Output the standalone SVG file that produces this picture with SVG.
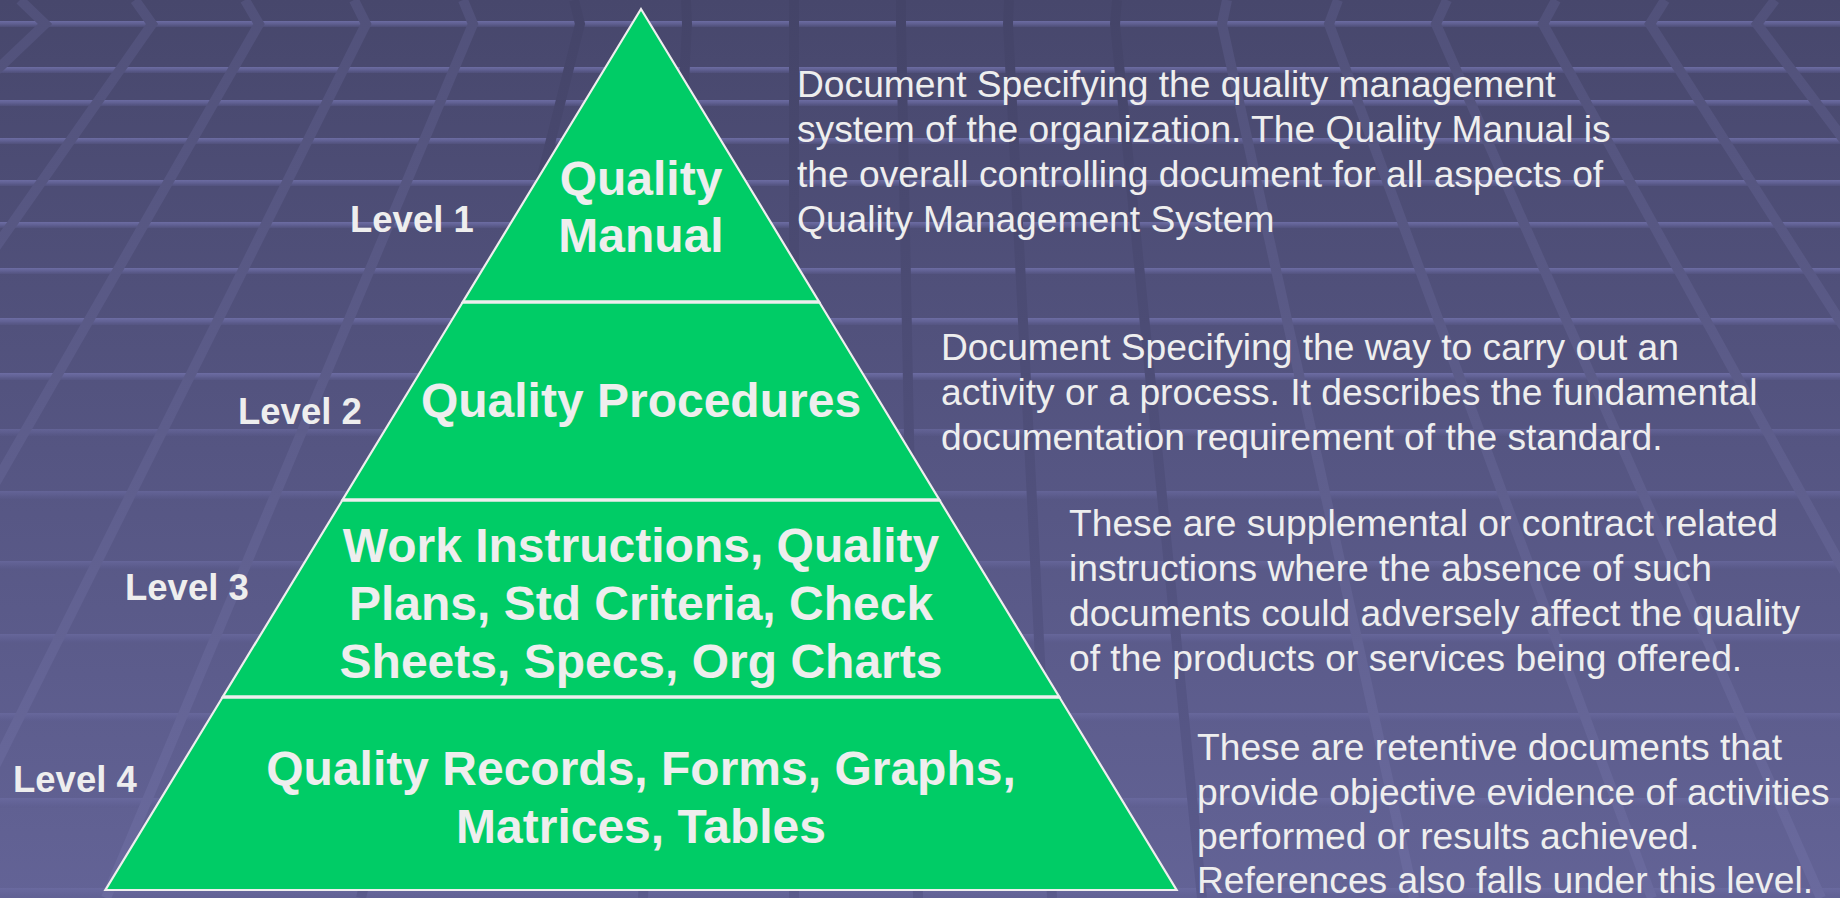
<svg xmlns="http://www.w3.org/2000/svg" width="1840" height="898" viewBox="0 0 1840 898">
<defs>
<linearGradient id="bg" x1="0" y1="0" x2="0" y2="898" gradientUnits="userSpaceOnUse">
<stop offset="0" stop-color="#47476c"/>
<stop offset="0.5" stop-color="#555582"/>
<stop offset="1" stop-color="#636396"/>
</linearGradient>
<linearGradient id="lightLine" x1="0" y1="0" x2="0" y2="898" gradientUnits="userSpaceOnUse">
<stop offset="0" stop-color="#51517a"/>
<stop offset="1" stop-color="#6a6a9e"/>
</linearGradient>
<linearGradient id="darkLine" x1="0" y1="0" x2="0" y2="898" gradientUnits="userSpaceOnUse">
<stop offset="0" stop-color="#444468"/>
<stop offset="1" stop-color="#5a5a8c"/>
</linearGradient>
<linearGradient id="band" x1="0" y1="0" x2="0" y2="1">
<stop offset="0" stop-color="#7070a8" stop-opacity="0.9"/>
<stop offset="0.5" stop-color="#66669c" stop-opacity="0.75"/>
<stop offset="1" stop-color="#5c5c8e" stop-opacity="0.35"/>
</linearGradient>
<style>
.band{fill:url(#band)}
.bandlo{fill:url(#band);opacity:0.6}
.sl{fill:none;stroke:url(#lightLine);stroke-width:10}
.sd{fill:none;stroke:url(#darkLine);stroke-width:10}
.lvl{fill:#00cc66;stroke:#eeeeee;stroke-width:2.2;stroke-linejoin:miter}
.div{stroke:#eeeeee;stroke-width:3.4}
.big{font-family:"Liberation Sans",Arial,sans-serif;font-weight:bold;font-size:48px;fill:#eeeeee;text-anchor:middle}
.lab{font-family:"Liberation Sans",Arial,sans-serif;font-weight:bold;font-size:36.5px;fill:#eeeeee}
.desc{font-family:"Liberation Sans",Arial,sans-serif;font-size:37.2px;fill:#eeeeee}
</style>
</defs>
<g id="background">
<rect x="0" y="0" width="1840" height="898" fill="url(#bg)"/>
<rect class="band" x="0" y="21" width="1840" height="6"/>
<rect class="band" x="0" y="67" width="1840" height="6"/>
<rect class="band" x="0" y="100" width="1840" height="6"/>
<rect class="band" x="0" y="138" width="1840" height="6"/>
<rect class="band" x="0" y="180" width="1840" height="6"/>
<rect class="band" x="0" y="222" width="1840" height="6"/>
<rect class="band" x="0" y="268" width="1840" height="6"/>
<rect class="band" x="0" y="318" width="1840" height="7"/>
<rect class="band" x="0" y="373" width="1840" height="7"/>
<rect class="bandlo" x="0" y="429" width="1840" height="7"/>
<rect class="bandlo" x="0" y="491" width="1840" height="8"/>
<rect class="bandlo" x="0" y="561" width="1840" height="8"/>
<rect class="bandlo" x="0" y="634" width="1840" height="9"/>
<rect class="bandlo" x="0" y="713" width="1840" height="9"/>
<rect class="bandlo" x="0" y="798" width="1840" height="10"/>
<rect class="bandlo" x="0" y="888" width="1840" height="10"/>
<polyline class="sl" points="20,0 45,24 -873,898"/>
<polyline class="sl" points="135,0 152,24 -460,898"/>
<polyline class="sl" points="245,0 259,24 -243,898"/>
<polyline class="sl" points="354,0 366,24 -71,898"/>
<polyline class="sl" points="463,0 473,24 106,898"/>
<polyline class="sd" points="574,0 580,24 361,898"/>
<polyline class="sd" points="686,0 687,24 643,898"/>
<polyline class="sd" points="794,0 794,24 794,898"/>
<polyline class="sd" points="901,0 901,24 918,898"/>
<polyline class="sd" points="1009,0 1008,24 1052,898"/>
<polyline class="sd" points="1117,0 1115,24 1202,898"/>
<polyline class="sl" points="1227,0 1222,24 1414,898"/>
<polyline class="sl" points="1338,0 1329,24 1652,898"/>
<polyline class="sl" points="1447,0 1436,24 1821,898"/>
<polyline class="sl" points="1556,0 1543,24 2024,898"/>
<polyline class="sl" points="1665,0 1650,24 2209,898"/>
<polyline class="sl" points="1775,0 1757,24 2413,898"/>
</g>
<g id="level1">
<polygon class="lvl" points="641,9 462.8,302 819.2,302"/>
<text class="big" x="641" y="195">Quality</text>
<text class="big" x="641" y="252">Manual</text>
<text class="lab" x="350" y="232">Level 1</text>
</g>
<g id="level2">
<polygon class="lvl" points="462.8,302 819.2,302 939.5,500 342.5,500"/>
<text class="big" x="641" y="417">Quality Procedures</text>
<text class="lab" x="238" y="424">Level 2</text>
</g>
<g id="level3">
<polygon class="lvl" points="342.5,500 939.5,500 1059.3,697 222.7,697"/>
<text class="big" x="641" y="562">Work Instructions, Quality</text>
<text class="big" x="641" y="620">Plans, Std Criteria, Check</text>
<text class="big" x="641" y="678">Sheets, Specs, Org Charts</text>
<text class="lab" x="125" y="600">Level 3</text>
</g>
<g id="level4">
<polygon class="lvl" points="222.7,697 1059.3,697 1176.6,890 105.4,890"/>
<text class="big" x="641" y="785">Quality Records, Forms, Graphs,</text>
<text class="big" x="641" y="843">Matrices, Tables</text>
<text class="lab" x="13" y="792">Level 4</text>
</g>
<g id="connectors">
<line class="div" x1="462.8" y1="302" x2="819.2" y2="302"/>
<line class="div" x1="342.5" y1="500" x2="939.5" y2="500"/>
<line class="div" x1="222.7" y1="697" x2="1059.3" y2="697"/>
</g>
<g id="desc1">
<text class="desc" x="797" y="97">Document Specifying the quality management</text>
<text class="desc" x="797" y="142">system of the organization. The Quality Manual is</text>
<text class="desc" x="797" y="187">the overall controlling document for all aspects of</text>
<text class="desc" x="797" y="232">Quality Management System</text>
</g>
<g id="desc2">
<text class="desc" x="941" y="360">Document Specifying the way to carry out an</text>
<text class="desc" x="941" y="405">activity or a process. It describes the fundamental</text>
<text class="desc" x="941" y="450">documentation requirement of the standard.</text>
</g>
<g id="desc3">
<text class="desc" x="1069" y="536">These are supplemental or contract related</text>
<text class="desc" x="1069" y="581">instructions where the absence of such</text>
<text class="desc" x="1069" y="626">documents could adversely affect the quality</text>
<text class="desc" x="1069" y="671">of the products or services being offered.</text>
</g>
<g id="desc4">
<text class="desc" x="1197" y="760">These are retentive documents that</text>
<text class="desc" x="1197" y="805">provide objective evidence of activities</text>
<text class="desc" x="1197" y="849">performed or results achieved.</text>
<text class="desc" x="1197" y="893">References also falls under this level.</text>
</g>
</svg>
